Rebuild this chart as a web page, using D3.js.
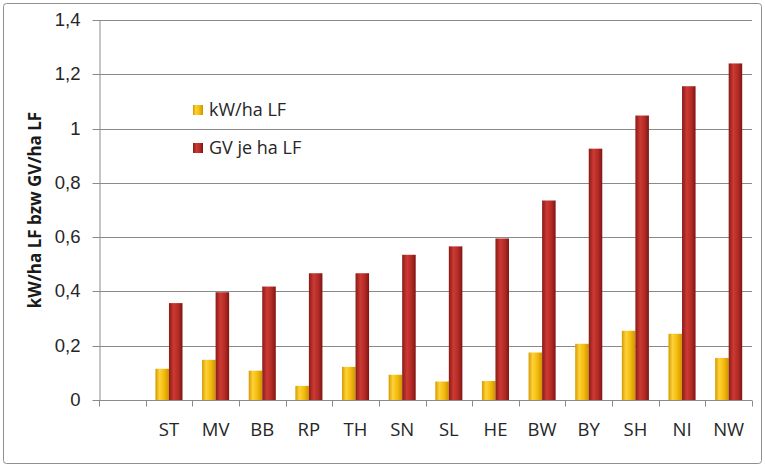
<!DOCTYPE html>
<html>
<head>
<meta charset="utf-8">
<script src="https://cdn.jsdelivr.net/npm/d3@7"></script>
<style>
  html, body { margin: 0; padding: 0; background: #fff; }
  svg { display: block; font-family: "Open Sans", Lato, sans-serif; }
  .grid line { stroke: #8a8a8a; stroke-width: 1; }
  .axis path, .axis line { stroke: #8a8a8a; }
  .axis text { fill: #262626; font-size: 18.5px; }
  .legend text { fill: #262626; font-size: 18px; }
</style>
</head>
<body>
<svg id="chart" width="765" height="466"></svg>
<script>
    var categories = ["ST", "MV", "BB", "RP", "TH", "SN", "SL", "HE", "BW", "BY", "SH", "NI", "NW"];
    var kwValues = [0.115, 0.148, 0.108, 0.052, 0.122, 0.093, 0.068, 0.070, 0.175, 0.207, 0.255, 0.244, 0.155];
    var gvValues = [0.357, 0.397, 0.418, 0.467, 0.467, 0.535, 0.566, 0.595, 0.735, 0.926, 1.048, 1.156, 1.240];
    var yTicks = [0, 0.2, 0.4, 0.6, 0.8, 1, 1.2, 1.4];
    var seriesNames = ["kW/ha LF", "GV je ha LF"];

    var width = 765, height = 466;
    var margin = { left: 99, right: 13, top: 20, bottom: 66 };
    var svg = d3.select("#chart");

    // outer frame
    svg.append("rect")
        .attr("x", 3.5).attr("y", 3.5)
        .attr("width", width - 7).attr("height", height - 6)
        .attr("rx", 3)
        .attr("fill", "#fff")
        .attr("stroke", "#8f8f8f");

    var defs = svg.append("defs");
    function cylinder(id, stops) {
        var g = defs.append("linearGradient").attr("id", id)
            .attr("x1", "0").attr("x2", "1").attr("y1", "0").attr("y2", "0");
        stops.forEach(function(s) {
            g.append("stop").attr("offset", s[0]).attr("stop-color", s[1]);
        });
    }
    cylinder("grad-kw", [[0, "#d49a00"], [0.3, "#ffd23a"], [0.65, "#f2bb0c"], [1, "#cf9200"]]);
    cylinder("grad-gv", [[0, "#8a1a17"], [0.35, "#cc3a33"], [0.7, "#b22a25"], [1, "#7e1512"]]);

    // blank slot first, as in the original
    var x = d3.scaleBand()
        .domain([""].concat(categories))
        .range([margin.left, width - margin.right]);

    var y = d3.scaleLinear()
        .domain([0, 1.4])
        .range([height - margin.bottom, margin.top]);

    var fmt = function(d) { return String(+d.toFixed(1)).replace(".", ","); };

    // gridlines
    svg.append("g").attr("class", "grid")
        .selectAll("line")
        .data(yTicks.slice(1))
        .join("line")
        .attr("x1", margin.left).attr("x2", width - margin.right)
        .attr("y1", function(d) { return Math.round(y(d)) + 0.5; })
        .attr("y2", function(d) { return Math.round(y(d)) + 0.5; });

    // y axis
    var yAxis = svg.append("g").attr("class", "axis")
        .attr("transform", "translate(" + (margin.left + 0.5) + ",0)")
        .call(d3.axisLeft(y).tickValues(yTicks).tickFormat(fmt).tickSize(7).tickSizeOuter(0).tickPadding(12));
    yAxis.selectAll(".tick").attr("transform", function(d) {
        return "translate(0," + (Math.round(y(d)) + 0.5) + ")";
    });

    // x axis: ticks on band boundaries, labels centered
    var xBase = Math.round(y(0)) + 0.5;
    var xAxis = svg.append("g").attr("class", "axis");
    xAxis.append("line")
        .attr("x1", margin.left).attr("x2", width - margin.right)
        .attr("y1", xBase).attr("y2", xBase);
    var bounds = x.domain().map(function(d) { return x(d); }).concat([x.range()[1]]);
    xAxis.selectAll(".xtick")
        .data(bounds)
        .join("line")
        .attr("class", "xtick")
        .attr("x1", function(d) { return Math.round(d) + 0.5; })
        .attr("x2", function(d) { return Math.round(d) + 0.5; })
        .attr("y1", xBase).attr("y2", xBase + 6);
    xAxis.selectAll(".xlabel")
        .data(categories)
        .join("text")
        .attr("class", "xlabel")
        .attr("text-anchor", "middle")
        .attr("x", function(d) { return x(d) + x.bandwidth() / 2; })
        .attr("y", xBase + 35)
        .text(function(d) { return d; });

    // bars
    var barW = x.bandwidth() * 0.29;
    var rows = categories.map(function(c, i) {
        return { cat: c, kw: kwValues[i], gv: gvValues[i] };
    });
    var bars = svg.append("g");
    bars.selectAll(".bar-kw")
        .data(rows)
        .join("rect")
        .attr("class", "bar-kw")
        .attr("x", function(d) { return x(d.cat) + x.bandwidth() / 2 - barW; })
        .attr("width", barW)
        .attr("y", function(d) { return y(d.kw); })
        .attr("height", function(d) { return y(0) - y(d.kw); })
        .attr("fill", "url(#grad-kw)");
    bars.selectAll(".bar-gv")
        .data(rows)
        .join("rect")
        .attr("class", "bar-gv")
        .attr("x", function(d) { return x(d.cat) + x.bandwidth() / 2; })
        .attr("width", barW)
        .attr("y", function(d) { return y(d.gv); })
        .attr("height", function(d) { return y(0) - y(d.gv); })
        .attr("fill", "url(#grad-gv)");

    // y title
    svg.append("text")
        .attr("transform", "translate(41," + 210 + ") rotate(-90)")
        .attr("text-anchor", "middle")
        .attr("font-size", 17)
        .attr("font-weight", "bold")
        .attr("fill", "#1a1a1a")
        .text("kW/ha LF bzw GV/ha LF");

    // legend
    var legend = svg.append("g").attr("class", "legend")
        .attr("transform", "translate(193,105)");
    var swatches = ["url(#grad-kw)", "url(#grad-gv)"];
    var item = legend.selectAll("g")
        .data(seriesNames)
        .join("g")
        .attr("transform", function(d, i) { return "translate(0," + (i * 38) + ")"; });
    item.append("rect")
        .attr("width", 10).attr("height", 10)
        .attr("fill", function(d, i) { return swatches[i]; });
    item.append("text")
        .attr("x", 16).attr("y", 5).attr("dy", "0.35em")
        .text(function(d) { return d; });
</script>
</body>
</html>
